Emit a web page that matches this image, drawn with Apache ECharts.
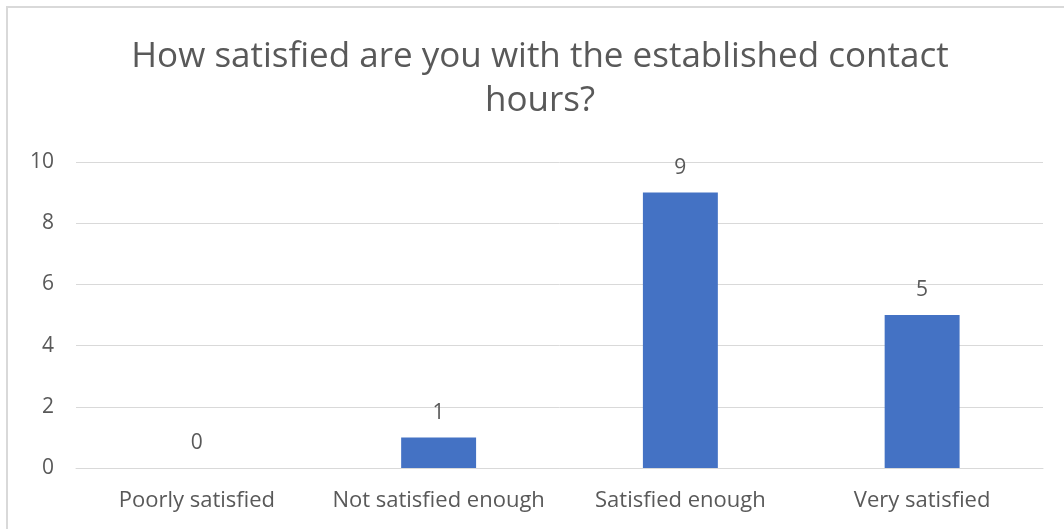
<!DOCTYPE html>
<html>
<head>
<meta charset="utf-8">
<script src="https://cdn.jsdelivr.net/npm/echarts@6/dist/echarts.min.js"></script>
<style>
  html, body { margin: 0; padding: 0; background: #ffffff; }
  #chart { width: 1064px; height: 529px; }
</style>
</head>
<body>
<div id="chart"></div>
<script>
// Survey answers: number of respondents per satisfaction level
const chartTitle = 'How satisfied are you with the established contact\nhours?';
const categories = ['Poorly satisfied', 'Not satisfied enough', 'Satisfied enough', 'Very satisfied'];
const counts = [0, 1, 9, 5];
const yTicks = [0, 2, 4, 6, 8, 10];

const textColor = '#595959';
const gridColor = '#d9d9d9';
const fontFamily = '"Open Sans", "Noto Sans", sans-serif';

const chart = echarts.init(document.getElementById('chart'), null, { renderer: 'canvas' });

chart.setOption({
  animation: false,
  backgroundColor: '#ffffff',
  title: {
    text: chartTitle,
    left: 535,
    top: 30,
    textAlign: 'center',
    textStyle: {
      color: textColor,
      fontFamily: fontFamily,
      fontSize: 35,
      fontWeight: 'normal',
      lineHeight: 44
    }
  },
  graphic: [{
    type: 'rect',
    shape: { x: 7, y: 7, width: 1080, height: 540 },
    style: { fill: 'none', stroke: gridColor, lineWidth: 2 },
    silent: true,
    z: -1
  }],
  grid: {
    left: 76,
    right: 21,
    top: 162,
    bottom: 61,
    containLabel: false
  },
  xAxis: {
    type: 'category',
    data: categories,
    axisLine: { show: true, lineStyle: { color: gridColor, width: 1 } },
    axisTick: { show: false },
    axisLabel: {
      interval: 0,
      color: textColor,
      fontFamily: fontFamily,
      fontSize: 22,
      margin: 22
    }
  },
  yAxis: {
    type: 'value',
    min: yTicks[0],
    max: yTicks[yTicks.length - 1],
    interval: yTicks[1] - yTicks[0],
    axisLine: { show: false },
    axisTick: { show: false },
    splitLine: { show: true, lineStyle: { color: gridColor, width: 1 } },
    axisLabel: {
      color: textColor,
      fontFamily: fontFamily,
      fontSize: 21,
      margin: 22
    }
  },
  series: [{
    type: 'bar',
    data: counts,
    barWidth: '31%',
    itemStyle: { color: '#4472c4' },
    label: {
      show: true,
      position: 'top',
      distance: 14,
      color: textColor,
      fontFamily: fontFamily,
      fontSize: 21
    }
  }]
});
</script>
</body>
</html>
